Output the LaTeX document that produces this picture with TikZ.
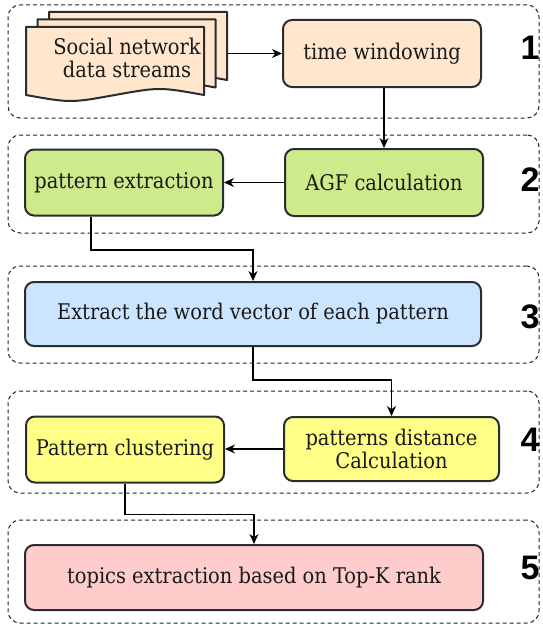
\documentclass[tikz,border=0pt]{standalone}
\usepackage{fontspec}
\setmainfont{DejaVu Serif Condensed}
\newfontfamily\numfont{Liberation Sans}
\usetikzlibrary{arrows.meta}
\definecolor{strk}{HTML}{2A2C30}
\definecolor{fOrange}{HTML}{FFE6CC}
\definecolor{fGreen}{HTML}{CDEB8B}
\definecolor{fBlue}{HTML}{CCE5FF}
\definecolor{fYellow}{HTML}{FFFF88}
\definecolor{fPink}{HTML}{FFCCCC}
\tikzset{
  proc/.style={draw=strk, line width=2pt, rounded corners=9pt, inner sep=0pt,
    align=center, font=\fontsize{21.6}{23}\selectfont, text=black!90},
  grp/.style={draw=black!85, line width=1pt, dash pattern=on 4pt off 3pt,
    rounded corners=12pt, inner sep=0pt},
  conn/.style={draw=black, line width=1.2pt, -{Stealth[length=10pt,width=9pt]}},
  stepnum/.style={font=\numfont\bfseries\fontsize{34}{34}\selectfont, inner sep=0pt},
  pagestyle/.style={draw=strk, line width=2pt, fill=fOrange, line join=round},
}
\begin{document}
\begin{tikzpicture}[x=1pt,y=-1pt]
\useasboundingbox (0,0) rectangle (542,626);
% group frames
\node[grp, minimum width=531pt, minimum height=113pt] (g1) at (273.5,61.5) {};
\node[grp, minimum width=531pt, minimum height=98pt] (g2) at (273.5,184) {};
\node[grp, minimum width=531pt, minimum height=97pt] (g3) at (273.5,314.5) {};
\node[grp, minimum width=531pt, minimum height=102pt] (g4) at (273.5,442) {};
\node[grp, minimum width=531pt, minimum height=103pt] (g5) at (273.5,571.5) {};
% multi document shape (three pages)
\foreach \dx/\dy in {23/-15, 11.5/-7.5, 0/0}{
  \path[pagestyle] (26+\dx,27+\dy) -- (204+\dx,27+\dy) -- (204+\dx,95+\dy)
    .. controls (159.5+\dx,87+\dy) .. (115+\dx,95+\dy)
    .. controls (70.5+\dx,103+\dy) .. (26+\dx,95+\dy) -- cycle;
}
\node[align=center, inner sep=0pt, minimum width=202pt, minimum height=88pt,
  font=\fontsize{21.6}{23}\selectfont, text=black!90] (doc) at (127,58)
  {Social network\\data streams};
% process boxes
\node[proc, fill=fOrange, minimum width=198pt, minimum height=67pt] (tw) at (382,53.5) {time windowing};
\node[proc, fill=fGreen, minimum width=198pt, minimum height=66pt] (pe) at (124,182.5) {pattern extraction};
\node[proc, fill=fGreen, minimum width=198pt, minimum height=67pt] (ag) at (384,182.5) {AGF calculation};
\node[proc, fill=fBlue, minimum width=456pt, minimum height=64pt] (ex) at (253,314) {Extract the word vector of each pattern};
\node[proc, fill=fYellow, minimum width=198pt, minimum height=66pt] (pc) at (125,449.5) {Pattern clustering};
\node[proc, fill=fYellow, minimum width=215pt, minimum height=64pt] (pd) at (391.5,449) {patterns distance\\Calculation};
\node[proc, fill=fPink, minimum width=458pt, minimum height=65pt] (tk) at (254,577.5) {topics extraction based on Top-K rank};
% step numbers
\node[stepnum] (n1) at (530,48) {1};
\node[stepnum] (n2) at (530,180) {2};
\node[stepnum] (n3) at (530,317) {3};
\node[stepnum] (n4) at (530,440) {4};
\node[stepnum] (n5) at (530,568) {5};
% connectors
\draw[conn] (doc.east |- tw.west) -- (tw.west);
\draw[conn] (ag.north |- tw.south) -- (ag.north);
\draw[conn] (ag.west) -- (ag.west -| pe.east);
\coordinate (c1) at (91,250);
\draw[conn] (c1 |- pe.south) -- (c1) -| (ex.north);
\coordinate (c2) at (391.5,380);
\draw[conn] (ex.south) |- (c2) -- (pd.north);
\draw[conn] (pd.west) -- (pd.west -| pc.east);
\coordinate (c3) at (254,514.5);
\draw[conn] (pc.south) |- (c3) -- (tk.north);
\end{tikzpicture}
\end{document}
